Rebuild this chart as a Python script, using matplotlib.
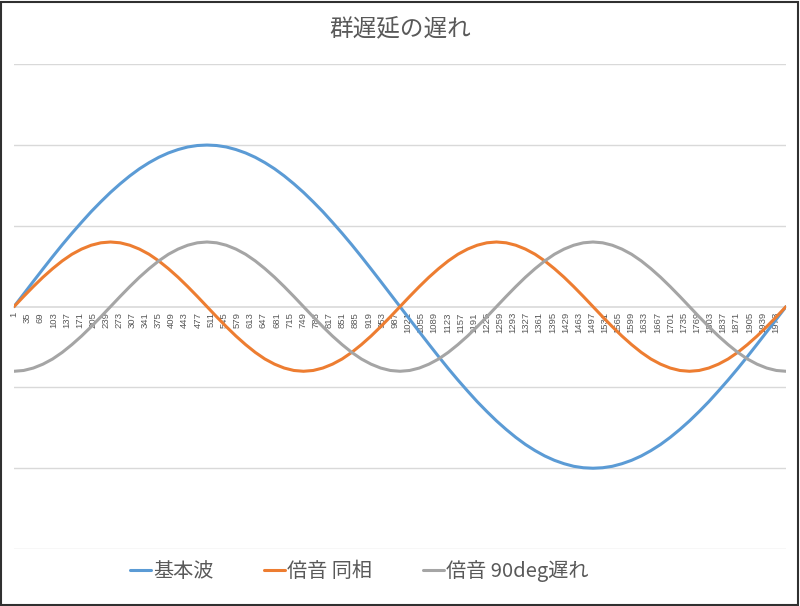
import matplotlib
matplotlib.use('Agg')
from matplotlib import pyplot as plt
from matplotlib.patches import Rectangle
import numpy as np

plt.rcParams['font.family'] = ['Noto Sans CJK JP', 'DejaVu Sans']

# 波形データ (2000点のうち81点を読み取り)
n_points = 2000
sample_x = np.linspace(1, n_points, 81)

kihon = [
    0.000, 0.078, 0.156, 0.233, 0.309, 0.383, 0.454, 0.522, 0.588, 0.649,
    0.707, 0.760, 0.809, 0.853, 0.891, 0.924, 0.951, 0.972, 0.988, 0.997,
    1.000, 0.997, 0.988, 0.972, 0.951, 0.924, 0.891, 0.853, 0.809, 0.760,
    0.707, 0.649, 0.588, 0.522, 0.454, 0.383, 0.309, 0.233, 0.156, 0.078,
    0.000, -0.078, -0.156, -0.233, -0.309, -0.383, -0.454, -0.522, -0.588, -0.649,
    -0.707, -0.760, -0.809, -0.853, -0.891, -0.924, -0.951, -0.972, -0.988, -0.997,
    -1.000, -0.997, -0.988, -0.972, -0.951, -0.924, -0.891, -0.853, -0.809, -0.760,
    -0.707, -0.649, -0.588, -0.522, -0.454, -0.383, -0.309, -0.233, -0.156, -0.078,
    0.000]

baion_doso = [
    0.000, 0.063, 0.124, 0.182, 0.235, 0.283, 0.324, 0.356, 0.380, 0.395,
    0.400, 0.395, 0.380, 0.356, 0.324, 0.283, 0.235, 0.182, 0.124, 0.063,
    0.000, -0.063, -0.124, -0.182, -0.235, -0.283, -0.324, -0.356, -0.380, -0.395,
    -0.400, -0.395, -0.380, -0.356, -0.324, -0.283, -0.235, -0.182, -0.124, -0.063,
    0.000, 0.063, 0.124, 0.182, 0.235, 0.283, 0.324, 0.356, 0.380, 0.395,
    0.400, 0.395, 0.380, 0.356, 0.324, 0.283, 0.235, 0.182, 0.124, 0.063,
    0.000, -0.063, -0.124, -0.182, -0.235, -0.283, -0.324, -0.356, -0.380, -0.395,
    -0.400, -0.395, -0.380, -0.356, -0.324, -0.283, -0.235, -0.182, -0.124, -0.063,
    0.000]

baion_90 = [
    -0.400, -0.395, -0.380, -0.356, -0.324, -0.283, -0.235, -0.182, -0.124, -0.063,
    0.000, 0.063, 0.124, 0.182, 0.235, 0.283, 0.324, 0.356, 0.380, 0.395,
    0.400, 0.395, 0.380, 0.356, 0.324, 0.283, 0.235, 0.182, 0.124, 0.063,
    0.000, -0.063, -0.124, -0.182, -0.235, -0.283, -0.324, -0.356, -0.380, -0.395,
    -0.400, -0.395, -0.380, -0.356, -0.324, -0.283, -0.235, -0.182, -0.124, -0.063,
    0.000, 0.063, 0.124, 0.182, 0.235, 0.283, 0.324, 0.356, 0.380, 0.395,
    0.400, 0.395, 0.380, 0.356, 0.324, 0.283, 0.235, 0.182, 0.124, 0.063,
    0.000, -0.063, -0.124, -0.182, -0.235, -0.283, -0.324, -0.356, -0.380, -0.395,
    -0.400]

series_names = ['基本波', '倍音 同相', '倍音 90deg遅れ']
series_colors = ['#5B9BD5', '#ED7D31', '#A5A5A5']

# 横軸ラベル (1, 35, 69, ... 1973)
tick_pos = list(range(1, n_points, 34))

fig = plt.figure(figsize=(8, 6.06), dpi=100)
ax = fig.add_axes([0.0175, 0.094, 0.965, 0.800])

# 先に軸の位置を決める (set_position は目盛りをリセットする)
for s in ['top', 'left', 'right']:
    ax.spines[s].set_visible(False)
ax.spines['bottom'].set_position(('data', 0))
ax.spines['bottom'].set_color('#D9D9D9')
ax.spines['bottom'].set_linewidth(1.2)

for y, name, c in zip([kihon, baion_doso, baion_90], series_names, series_colors):
    ax.plot(sample_x, y, color=c, lw=2.2, label=name, solid_capstyle='round', zorder=3)

ax.set_xlim(1, n_points)
ax.set_ylim(-1.5, 1.5)
ax.set_yticks([-1.5, -1.0, -0.5, 0.5, 1.0, 1.5])
ax.yaxis.grid(True, color='#D9D9D9', lw=1.0)
ax.tick_params(axis='y', length=0, labelleft=False)

ax.set_xticks(tick_pos)
ax.set_xticklabels([str(t) for t in tick_pos], fontsize=6.8, color='#595959',
                   family=['Liberation Sans', 'DejaVu Sans'])
ax.tick_params(axis='x', length=0, pad=4, labelrotation=90)

fig.text(0.5, 0.953, '群遅延の遅れ', ha='center', va='center', fontsize=17, color='#595959')

leg = fig.legend(loc='center', bbox_to_anchor=(0.449, 0.058), ncol=3, frameon=False,
                 fontsize=14.5, handlelength=1.05, handletextpad=0.1, columnspacing=2.5)
for t in leg.get_texts():
    t.set_color('#595959')

fig.patches.append(Rectangle((0.001, 0.002), 0.996, 0.995, transform=fig.transFigure,
                             fill=False, edgecolor='#303030', lw=1.5))

fig.savefig('out.png', dpi=100)
